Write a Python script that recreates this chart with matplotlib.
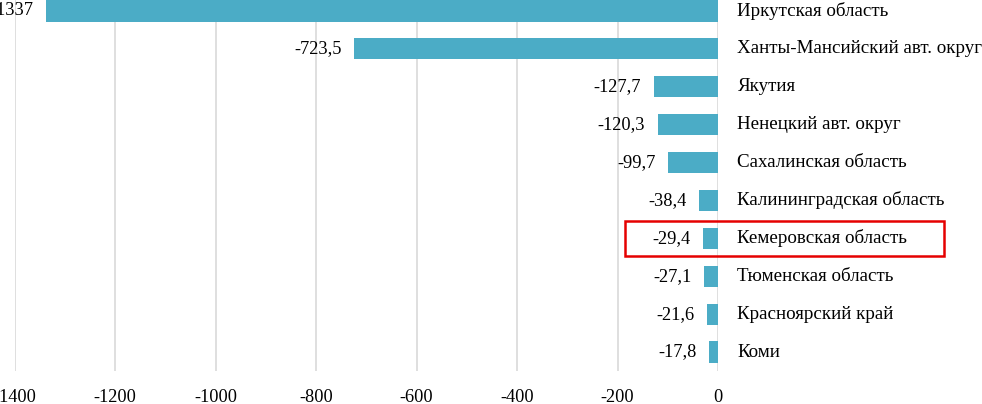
import matplotlib
matplotlib.use("Agg")
import matplotlib.pyplot as plt
from matplotlib.patches import Rectangle

# ── Data ────────────────────────────────────────────────────────────────────
regions = [
    "Иркутская область",
    "Ханты-Мансийский авт. округ",
    "Якутия",
    "Ненецкий авт. округ",
    "Сахалинская область",
    "Калининградская область",
    "Кемеровская область",
    "Тюменская область",
    "Красноярский край",
    "Коми",
]
values = [-1337, -723.5, -127.7, -120.3, -99.7, -38.4, -29.4, -27.1, -21.6, -17.8]
x_ticks = [-1400, -1200, -1000, -800, -600, -400, -200, 0]
highlight = "Кемеровская область"

BAR_COLOR = "#4BACC6"
GRID_COLOR = "#D9D9D9"

plt.rcParams.update({
    "font.family": "serif",
    "font.serif": ["Liberation Serif", "DejaVu Serif"],
})

W, H = 982, 404
fig = plt.figure(figsize=(W / 100, H / 100), dpi=100)
# axes spans px x 14.5..718, y -8..371 (top slightly off canvas)
ax = fig.add_axes([14.5 / W, 1 - 371 / H, (718 - 14.5) / W, (371 + 8) / H])

y = list(range(len(regions)))
ax.barh(y, values, height=0.56, color=BAR_COLOR, edgecolor="none", zorder=2)
ax.set_xlim(-1400, 0)
ax.set_ylim(len(regions) - 0.5, -0.5)

ax.set_xticks(x_ticks)
ax.set_xticklabels([str(t) for t in x_ticks], fontsize=13.2)
ax.tick_params(axis="x", length=0, pad=13)
ax.set_yticks([])
ax.grid(axis="x", color=GRID_COLOR, linewidth=1.2, zorder=0)
ax.grid(axis="y", visible=False)
for s in ax.spines.values():
    s.set_visible(False)

for yi, v, name in zip(y, values, regions):
    txt = f"{v:g}".replace(".", ",")
    ax.annotate(txt, (v, yi), xytext=(-9, 0), textcoords="offset points",
                ha="right", va="center", fontsize=13.2)
    ax.annotate(name, (0, yi), xytext=(14, 0), textcoords="offset points",
                ha="left", va="center", fontsize=13.7, annotation_clip=False)

# red frame around the highlighted region
hi = regions.index(highlight)
fig.add_artist(Rectangle((625 / W, 1 - 256 / H), (944 - 625) / W, (256 - 221) / H,
                         transform=fig.transFigure, fill=False,
                         edgecolor="#E50000", linewidth=1.8, zorder=5))

fig.savefig("out.png", dpi=100, facecolor="white")
